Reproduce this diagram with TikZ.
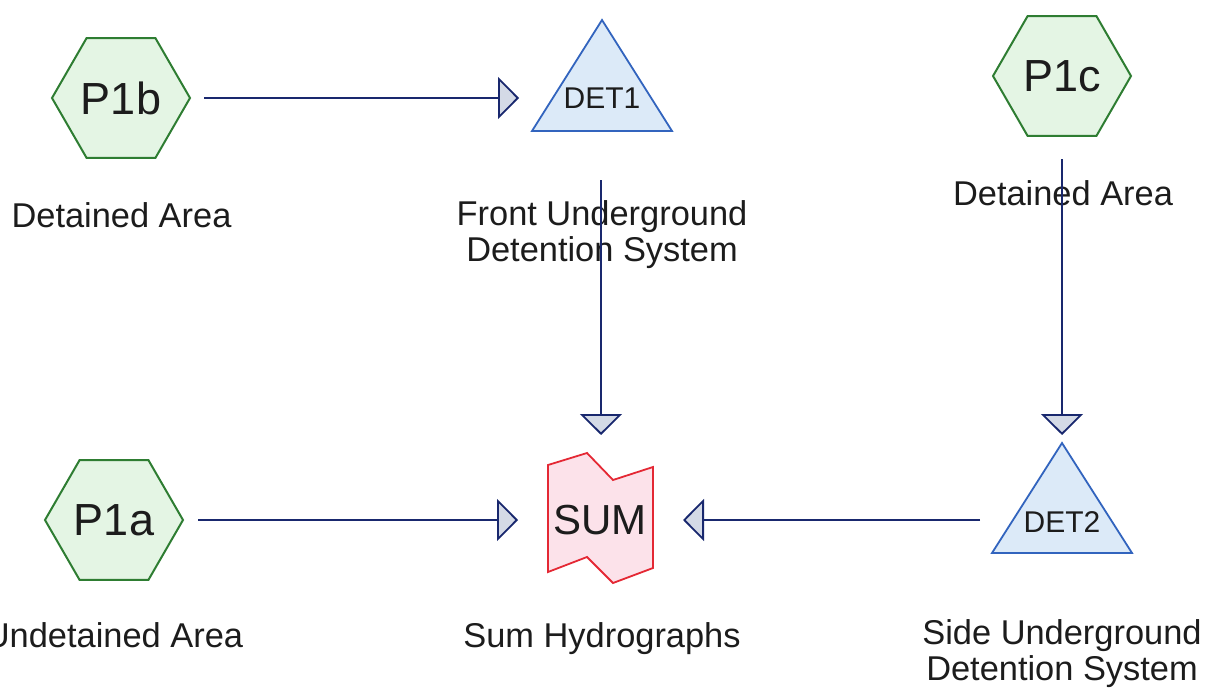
\documentclass[tikz,border=0pt]{standalone}
\usepackage{fontspec}
\setmainfont{Liberation Sans}
\usetikzlibrary{shapes.geometric,arrows.meta,calc}
\definecolor{hexgreen}{RGB}{46,125,50}
\definecolor{hexfill}{RGB}{228,245,228}
\definecolor{detblue}{RGB}{50,100,190}
\definecolor{detfill}{RGB}{220,234,248}
\definecolor{sumred}{RGB}{228,40,52}
\definecolor{sumfill}{RGB}{252,226,234}
\definecolor{flowblue}{RGB}{25,40,110}
\definecolor{headfill}{RGB}{212,218,230}
\definecolor{ink}{RGB}{28,28,28}
\tikzset{
  hexnode/.style={regular polygon, regular polygon sides=6, minimum size=138pt,
    inner sep=0pt, draw=hexgreen, fill=hexfill, line width=2pt, text=ink,
    font=\fontsize{45}{54}\selectfont},
  shapetext/.style={inner sep=0pt, text=ink},
  detshape/.style={draw=detblue, fill=detfill, line width=1.8pt, line join=miter},
  sumshape/.style={draw=sumred, fill=sumfill, line width=1.8pt, line join=miter},
  caption/.style={inner sep=0pt, text=ink, font=\fontsize{34.4}{36}\selectfont, align=center, anchor=base},
  flow/.style={draw=flowblue, line width=1.6pt,
    -{Triangle[length=21pt,width=42pt,fill=headfill,line width=1.8pt]}}
}
\begin{document}
\begin{tikzpicture}[x=1pt,y=-1pt]
\useasboundingbox (0,0) rectangle (1209,698);
% centres
\coordinate (cD1) at (602,98);
\coordinate (cD2) at (1062,520);
\coordinate (cS) at (600,520);
% shapes
\path[detshape] ($(cD1)+(0,-78)$) -- ($(cD1)+(70,33)$) -- ($(cD1)+(-70,33)$) -- cycle;
\path[detshape] ($(cD2)+(0,-77)$) -- ($(cD2)+(70,33)$) -- ($(cD2)+(-70,33)$) -- cycle;
\path[sumshape] ($(cS)+(-52,-55)$) -- ($(cS)+(-13,-67)$) -- ($(cS)+(13,-40)$) -- ($(cS)+(53,-53)$)
  -- ($(cS)+(53,48)$) -- ($(cS)+(13,63)$) -- ($(cS)+(-13,37)$) -- ($(cS)+(-52,52)$) -- cycle;
% nodes
\node[hexnode] (P1b) at (121,98) {P1b};
\node[hexnode] (P1c) at (1062,76) {P1c};
\node[hexnode] (P1a) at (114,520) {P1a};
\node[shapetext, font=\fontsize{30}{36}\selectfont] (DET1) at (cD1) {DET1};
\node[shapetext, font=\fontsize{30}{36}\selectfont] (DET2) at ($(cD2)+(0,2)$) {DET2};
\node[shapetext, font=\fontsize{42}{50}\selectfont] (SUM) at (cS) {SUM};
% captions (base = baseline of last line)
\node[caption] (capP1b) at (121.5,227) {Detained Area};
\node[caption] (capP1c) at (1063,205) {Detained Area};
\node[caption] (capDET1) at (602,261) {Front Underground\\Detention System};
\node[caption] (capP1a) at (114,647) {Undetained Area};
\node[caption] (capSUM) at (602,647) {Sum Hydrographs};
\node[caption] (capDET2) at (1062,680) {Side Underground\\Detention System};
% connectors
\draw[flow] ($(P1b.east)+(13,0)$) -- ($(DET1.center)+(-83,0)$);
\draw[flow] ($(DET1.center)+(-1,82)$) -- ($(SUM.center)+(1,-85)$);
\draw[flow] ($(P1c.center)+(0,83)$) -- ($(cD2)+(0,-85)$);
\draw[flow] ($(P1a.east)+(14,0)$) -- ($(SUM.center)+(-82,0)$);
\draw[flow] ($(cD2)+(-82,0)$) -- ($(SUM.center)+(83,0)$);
\end{tikzpicture}
\end{document}
